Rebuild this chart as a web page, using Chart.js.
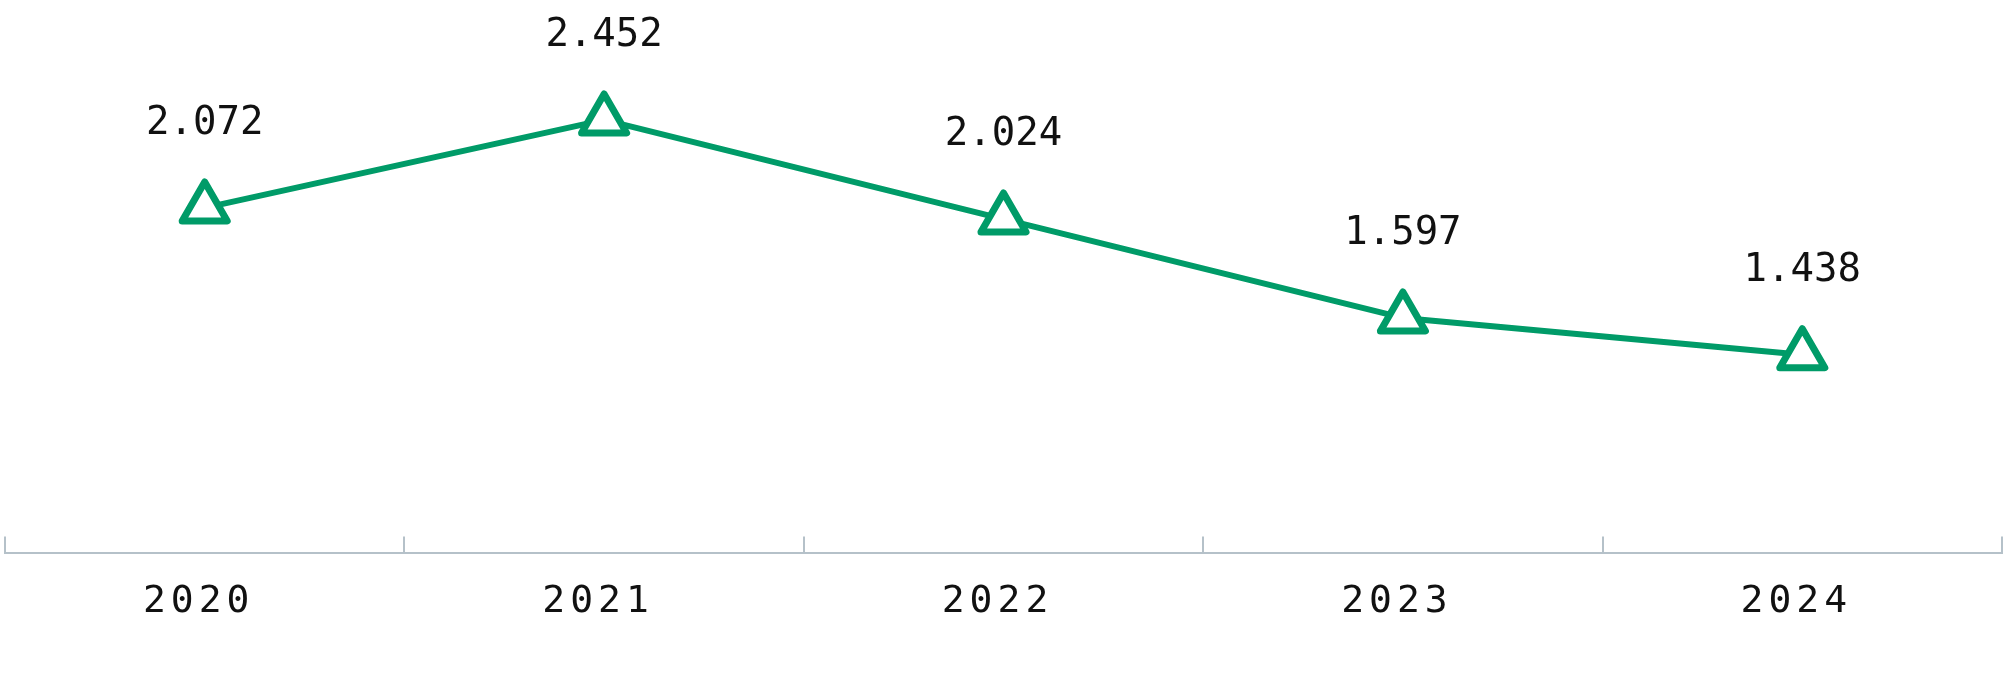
<!DOCTYPE html>
<html>
<head>
<meta charset="utf-8">
<script src="https://cdn.jsdelivr.net/npm/chart.js@4"></script>
<style>
  html, body { margin: 0; padding: 0; background: #fff; }
  #wrap { width: 2008px; height: 700px; }
</style>
</head>
<body>
<div id="wrap"><canvas id="lineChart"></canvas></div>
<script>
const years = ['2020', '2021', '2022', '2023', '2024'];
const values = [2.072, 2.452, 2.024, 1.597, 1.438];

const green = '#009b68';
const axisGrey = '#b5c1c9';
const monoFont = '"DejaVu Sans Mono", "Liberation Mono", monospace';

// labels above each point, drawn from the point elements
const valueLabels = {
    id: 'valueLabels',
    beforeDraw(chart) {
        chart.ctx.letterSpacing = '5px';
    },
    beforeDatasetsDraw(chart) {
        chart.ctx.letterSpacing = '0px';
        chart.ctx.lineJoin = 'round';
    },
    afterDatasetsDraw(chart) {
        const ctx = chart.ctx;
        const meta = chart.getDatasetMeta(0);
        ctx.save();
        ctx.letterSpacing = '0px';
        ctx.font = '39px ' + monoFont;
        ctx.fillStyle = '#111';
        ctx.textAlign = 'center';
        ctx.textBaseline = 'middle';
        meta.data.forEach((pt, i) => {
            ctx.fillText(values[i].toFixed(3), pt.x, pt.y - 84);
        });
        ctx.restore();
    }
};

const ctx = document.getElementById('lineChart').getContext('2d');
new Chart(ctx, {
    type: 'line',
    data: {
        labels: years,
        datasets: [{
            data: values,
            borderColor: green,
            borderWidth: 6,
            borderJoinStyle: 'round',
            pointStyle: 'triangle',
            pointRadius: 26,
            pointHoverRadius: 26,
            pointBorderWidth: 7,
            pointHoverBorderWidth: 7,
            pointBackgroundColor: '#fff',
            pointBorderColor: green,
            tension: 0
        }]
    },
    options: {
        responsive: true,
        maintainAspectRatio: false,
        devicePixelRatio: 1,
        animation: false,
        events: [],
        layout: { autoPadding: false, padding: { top: 0, left: 5, right: 6, bottom: 32 } },
        plugins: {
            legend: { display: false },
            tooltip: { enabled: false }
        },
        scales: {
            x: {
                offset: true,
                grid: {
                    offset: true,
                    drawOnChartArea: false,
                    drawTicks: true,
                    tickLength: -17,
                    color: axisGrey,
                    lineWidth: 2
                },
                border: { display: true, color: axisGrey, width: 2 },
                ticks: {
                    color: '#111',
                    padding: 43,
                    labelOffset: -6,
                    font: { family: monoFont, size: 38 }
                }
            },
            y: {
                display: false,
                min: 0.58,
                max: 2.97
            }
        }
    },
    plugins: [valueLabels]
});
</script>
</body>
</html>
